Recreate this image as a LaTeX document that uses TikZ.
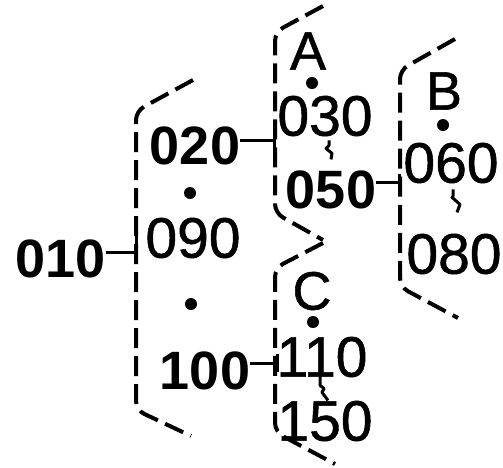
\documentclass[tikz,border=0pt]{standalone}
\usepackage{fontspec}
\setmainfont{Liberation Sans}
\newfontfamily\thinfont{Liberation Sans}[FakeBold=1]
\begin{document}
\begin{tikzpicture}[x=1pt,y=-1pt,
  lab/.style={font=\fontsize{54}{54}\selectfont\bfseries, inner sep=0pt},
  num/.style={font=\thinfont\fontsize{57}{57}\selectfont, inner sep=0pt},
  letr/.style={font=\thinfont\fontsize{54}{54}\selectfont, inner sep=0pt},
  brk/.style={line width=4pt, dash pattern=on 20pt off 8pt, rounded corners=9pt},
  lead/.style={line width=3pt},
  sq/.style={line width=3pt, line join=round},
  pt/.style={circle, fill, inner sep=0pt, minimum size=12pt}]
\useasboundingbox (0,0) rectangle (503,467);
% brackets
\draw[brk] (193,80) -- (136,111) -- (136,410) -- (191,436);
\draw[brk] (323,6) -- (275,32) -- (275,213) -- (323,240);
\draw[brk] (323,243) -- (275,268) -- (275,432) -- (335,464);
\draw[brk] (455,39) -- (400,70) -- (400,287) -- (458,318);
% labels
\node[lab] (l010) at (61,259) {010};
\node[lab] (l020) at (195,146) {020};
\node[lab] (l050) at (331,190) {050};
\node[lab] (l100) at (205,371) {100};
% numbers
\node[num] (n090) at (193,238) {090};
\node[num] (n030) at (325,116) {030};
\node[num] (n060) at (451,163) {060};
\node[num] (n080) at (454,254) {080};
\node[num] (n110) at (322,357) {110};
\node[num] (n150) at (325,421) {150};
% letters
\node[letr] (la) at (308,51) {A};
\node[letr] (lb) at (444,91) {B};
\node[letr] (lc) at (312,291) {C};
% dots
\node[pt] (d1) at (190,193) {};
\node[pt] (d2) at (191,304) {};
\node[pt] (da) at (312,83) {};
\node[pt] (db) at (443,125) {};
\node[pt] (dc) at (313,322) {};
% leaders
\coordinate (e010) at (136,252);
\coordinate (e020) at (274,140);
\coordinate (e050) at (399,182);
\coordinate (e100) at (277,363);
\draw[lead] (l010.east |- e010) -- (e010) -- ++(0,-16);
\draw[lead] (l020.east |- e020) -- (e020);
\draw[lead] ([yshift=8pt]e020) -- ([yshift=-8pt]e020);
\draw[lead] (l050.east |- e050) -- (e050);
\draw[lead] ([yshift=8pt]e050) -- ([yshift=-8pt]e050);
\draw[lead] (l100.east |- e100) -- (e100);
\draw[lead] ([yshift=9pt]e100) -- ([yshift=-9pt]e100);
% squiggles
\draw[sq] ([shift={(4,4)}]n030.south) -- ++(0,5) -- ++(-3,3) -- ++(6,5) -- ++(-1,6);
\draw[sq] ([shift={(2,6)}]n060.south) -- ++(0,7) -- ++(-1,1) -- ++(8,7) -- ++(-3,8);
\draw[sq] ([shift={(-2,-1)}]n110.south) -- ++(0,9) -- ++(4,3) -- ++(-2,4) -- ++(6,8);
\end{tikzpicture}
\end{document}
